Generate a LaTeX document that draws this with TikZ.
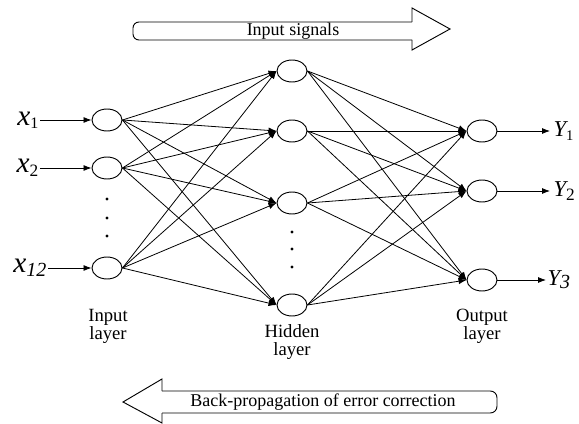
\documentclass[tikz,border=0pt]{standalone}
\usepackage{fontspec}
\setmainfont{Liberation Serif}
\usetikzlibrary{arrows.meta,shapes.geometric}
\begin{document}
\begin{tikzpicture}[x=0.75pt,y=-0.75pt,
  neuron/.style={draw,ellipse,line width=0.7pt,minimum width=22.5pt,minimum height=16.5pt,inner sep=0pt},
  conn/.style={line width=0.6pt,-{Latex[length=6pt,width=4.5pt]}},
  xlab/.style={inner sep=1pt,font=\fontsize{22}{22}\selectfont\itshape},
  ylab/.style={inner ysep=1pt,inner xsep=2.5pt,font=\fontsize{17}{17}\selectfont\itshape},
  layerlab/.style={align=center,font=\fontsize{14}{13.5}\selectfont},
  bigarrow/.style={line width=0.7pt},
  dotmark/.style={circle,fill=black,inner sep=0pt,minimum size=2.6pt}]
\useasboundingbox (0,0) rectangle (579,424);
% input nodes
\node[neuron] (i1) at (107,120) {};
\node[neuron] (i2) at (107,168) {};
\node[neuron] (i3) at (107,268) {};
% hidden
\node[neuron] (h1) at (292,71) {};
\node[neuron] (h2) at (292,131) {};
\node[neuron] (h3) at (292,203) {};
\node[neuron] (h4) at (292,305) {};
% output
\node[neuron] (o1) at (482,131) {};
\node[neuron] (o2) at (482,191) {};
\node[neuron] (o3) at (482,280) {};
% dots
\foreach \yy/\nm in {199/a,218/b,236/c} \node[dotmark] (di\nm) at (107,\yy) {};
\foreach \yy/\nm in {232/a,249/b,267/c} \node[dotmark] (dh\nm) at (292,\yy) {};
% connections
\foreach \a in {i1,i2,i3} \foreach \b in {h1,h2,h3,h4} \draw[conn] (\a.east) -- (\b.west);
\foreach \a in {h1,h2,h3,h4} \foreach \b in {o1,o2,o3} \draw[conn] (\a.east) -- (\b.west);
% input labels
\node[xlab,anchor=east] (lx1) at (40,120) {x{\fontsize{12}{12}\selectfont\upshape\raisebox{-0.35ex}{1}}};
\node[xlab,anchor=east] (lx2) at (40,168) {x{\fontsize{13}{13}\selectfont\upshape\raisebox{-0.45ex}{2}}};
\node[xlab,anchor=east] (lx3) at (48,268) {x{\fontsize{15}{15}\selectfont\raisebox{-0.45ex}{12}}};
\draw[conn] (lx1.east) -- (i1.west);
\draw[conn] (lx2.east) -- (i2.west);
\draw[conn] (lx3.east) -- (i3.west);
% output labels
\node[ylab,anchor=west] (ly1) at (550,131) {Y{\fontsize{11}{11}\selectfont\upshape\raisebox{-0.5ex}{1}}};
\node[ylab,anchor=west] (ly2) at (550,191) {Y{\fontsize{13}{13}\selectfont\upshape\raisebox{-0.5ex}{2}}};
\node[ylab,anchor=west,inner xsep=1pt] (ly3) at (546,280) {Y{\fontsize{15}{15}\selectfont\raisebox{-0.3ex}{3}}};
\draw[conn] (o1.east) -- (ly1.west);
\draw[conn] (o2.east) -- (ly2.west);
\draw[conn] (o3.east) -- (ly3.west);
% layer labels
\node[layerlab] (li) at (108,326) {Input\\layer};
\node[layerlab] (lh) at (292,342) {Hidden\\layer};
\node[layerlab] (lo) at (482,326) {Output\\layer};
% top big arrow
\draw[bigarrow,rounded corners=4.5pt] (412,22) -- (133,22) -- (133,40) -- (412,40);
\draw[bigarrow,line join=miter] (412,22) -- (412,8) -- (450,29) -- (412,50) -- (412,40);
\node[font=\fontsize{13.5}{14}\selectfont] (tsig) at (293,31) {Input signals};
% bottom big arrow
\draw[bigarrow,rounded corners=5pt] (162,391) -- (497,391) -- (497,413) -- (162,413);
\draw[bigarrow,line join=miter] (162,391) -- (162,379) -- (123,402) -- (162,423) -- (162,413);
\node[font=\fontsize{13.5}{14}\selectfont] (tback) at (323,402) {Back-propagation of error correction};
\end{tikzpicture}
\end{document}
